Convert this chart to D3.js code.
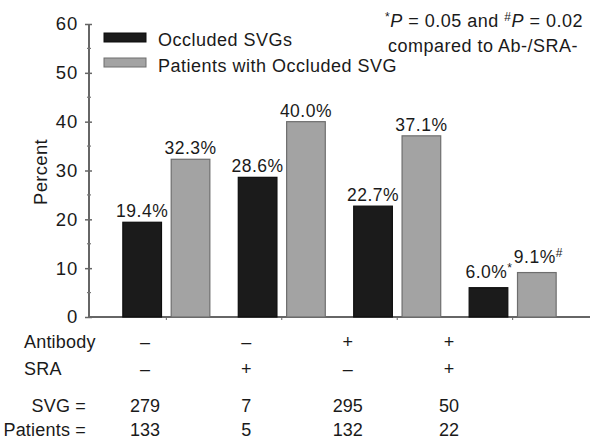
<!DOCTYPE html>
<html><head><meta charset="utf-8">
<script src="https://cdn.jsdelivr.net/npm/d3@7"></script>
<style>body{margin:0;background:#fff}svg{display:block}text{font-family:"Liberation Sans",Arial,sans-serif;fill:#1a1a1a}</style>
</head><body>
<svg id="c" width="600" height="448"></svg>
<script>
const groups = ["g1","g2","g3","g4"];
const series = ["Occluded SVGs","Patients with Occluded SVG"];
const occludedSVGs = [19.4, 28.6, 22.7, 6.0];
const patientsOccluded = [32.3, 40.0, 37.1, 9.1];
const occludedLabels = ["19.4%","28.6%","22.7%","6.0%*"];
const patientsLabels = ["32.3%","40.0%","37.1%","9.1%#"];
const yTicks = [0,10,20,30,40,50,60];
const antibody = ["–","–","+","+"];
const sra = ["–","+","–","+"];
const svgN = ["279","7","295","50"];
const patientsN = ["133","5","132","22"];

const svg = d3.select("#c");
const y = d3.scaleLinear().domain([0,60]).range([317,24]);
const x = d3.scalePoint().domain(groups).range([89,590]).padding(0.67);
const xs = d3.scaleBand().domain(series).range([-44,44]).paddingInner(0.18);
const colors = ["#1b1b1b","#a3a3a3"];
const strokes = ["#0d0d0d","#6e6e6e"];

// y axis
const yAxis = d3.axisLeft(y).tickValues(yTicks).tickSize(4).tickPadding(7);
const gy = svg.append("g").attr("transform","translate(89,0)").call(yAxis);
gy.select(".domain").attr("stroke","#666").attr("stroke-width",2).attr("d","M0,317V24");
gy.selectAll(".tick line").attr("stroke","#666").attr("stroke-width",1.5).attr("x2",-4).attr("x1",3);
gy.selectAll(".tick text").style("font-size","18.5px").style("letter-spacing","0.8px").attr("fill","#1a1a1a").attr("font-family","Liberation Sans, Arial, sans-serif");
// minor ticks
svg.append("g").selectAll("line").data(d3.range(5,60,10)).join("line")
  .attr("x1",87).attr("x2",91).attr("y1",d=>y(d)).attr("y2",d=>y(d))
  .attr("stroke","#777").attr("stroke-width",1.2);

// x axis line
svg.append("line").attr("x1",89).attr("x2",590).attr("y1",317).attr("y2",317)
  .attr("stroke","#666").attr("stroke-width",2);
svg.append("g").selectAll("line").data(groups).join("line")
  .attr("x1",d=>x(d)).attr("x2",d=>x(d)).attr("y1",317).attr("y2",320)
  .attr("stroke","#666").attr("stroke-width",1);

// y label
svg.append("text").attr("transform","translate(47,172) rotate(-90)")
  .attr("text-anchor","middle").style("font-size","18.5px").style("letter-spacing","0.3px").text("Percent");

// bars
const data = [occludedSVGs, patientsOccluded];
const labels = [occludedLabels, patientsLabels];
series.forEach((s,si)=>{
  const g = svg.append("g");
  g.selectAll("rect").data(groups).join("rect")
    .attr("x",(d)=>x(d)+xs(s)+0.5)
    .attr("width",xs.bandwidth()-1)
    .attr("y",(d,i)=>y(data[si][i]))
    .attr("height",(d,i)=>y(0)-y(data[si][i]))
    .attr("fill",colors[si]).attr("stroke",strokes[si]).attr("stroke-width",1.2);
  g.selectAll("text").data(groups).join("text")
    .attr("x",d=>x(d)+xs(s)+xs.bandwidth()/2)
    .attr("y",(d,i)=>y(data[si][i])-5)
    .attr("text-anchor","middle").style("font-size","17.5px").style("letter-spacing","0.5px")
    .each(function(d,i){
      const t = labels[si][i];
      const m = t.match(/^(.*%)([*#]?)$/);
      const el = d3.select(this);
      if(m[2]){
        el.attr("text-anchor","start").attr("x", x(d)+xs(s)+xs.bandwidth()/2 - 23)
          .attr("y", y(data[si][i]) - 10);
        el.append("tspan").text(m[1]);
        el.append("tspan").attr("dy",-6).style("font-size","12px").text(m[2]);
      } else el.text(t);
    });
});

// legend
const leg = svg.append("g");
series.forEach((s,i)=>{
  leg.append("rect").attr("x",104).attr("y",33+i*25).attr("width",42).attr("height",9)
    .attr("fill",colors[i]).attr("stroke",strokes[i]).attr("stroke-width",1);
  leg.append("text").attr("x",158).attr("y",46+i*26).style("font-size","18px").style("letter-spacing","0.5px").text(s);
});

// annotation
const ann = svg.append("g").style("font-size","18px").style("letter-spacing","0.5px");
const t1 = ann.append("text").attr("x",484).attr("y",27).attr("text-anchor","middle");
t1.append("tspan").attr("dy",-6).style("font-size","12px").text("*");
t1.append("tspan").attr("dy",6).style("font-style","italic").text("P");
t1.append("tspan").text(" = 0.05 and ");
t1.append("tspan").attr("dy",-6).style("font-size","12px").text("#");
t1.append("tspan").attr("dy",6).style("font-style","italic").text("P");
t1.append("tspan").text(" = 0.02");
ann.append("text").attr("x",483).attr("y",52).attr("text-anchor","middle").text("compared to Ab-/SRA-");

// table
const xt = d3.scalePoint().domain(groups).range([145,449]);
const rows = [
  {name:"Antibody", vals:antibody, yb:348, anchor:"start", lx:24},
  {name:"SRA", vals:sra, yb:375, anchor:"start", lx:24},
  {name:"SVG =", vals:svgN, yb:412, anchor:"end", lx:86},
  {name:"Patients =", vals:patientsN, yb:436, anchor:"end", lx:86}
];
rows.forEach(r=>{
  svg.append("text").attr("x",r.lx).attr("y",r.yb).attr("text-anchor",r.anchor).style("font-size","18px").style("letter-spacing","0.2px").text(r.name);
  svg.append("g").selectAll("text").data(groups).join("text")
    .attr("x",d=>xt(d)).attr("y",r.yb).attr("text-anchor","middle").style("font-size","18px")
    .text((d,i)=>r.vals[i]);
});
</script>
</body></html>
